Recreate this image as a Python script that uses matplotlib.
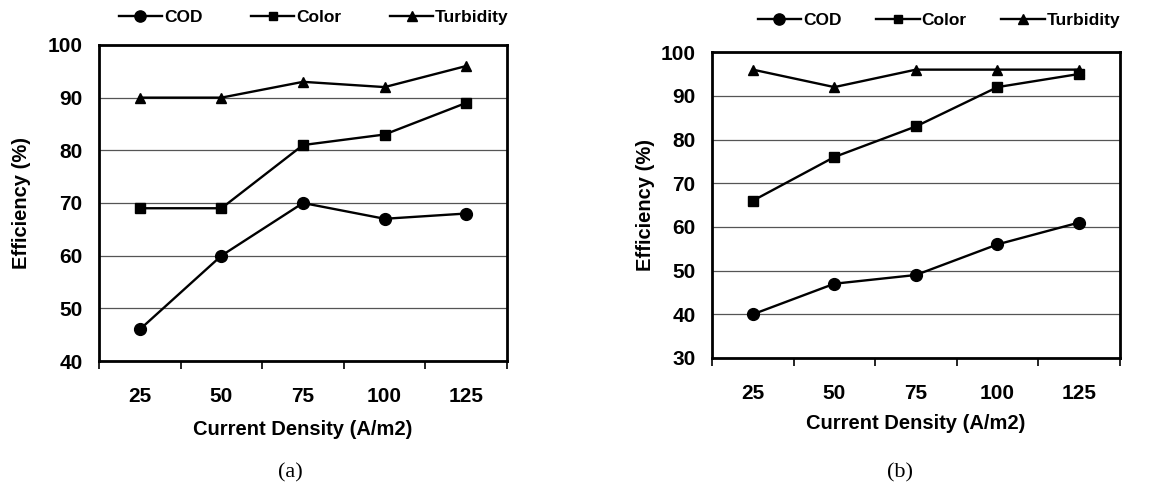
import matplotlib.pyplot as plt
import numpy as np

# current density categories (A/m2)
densities = ['25', '50', '75', '100', '125']

# panel (a)
cod_a = [46, 60, 70, 67, 68]
color_a = [69, 69, 81, 83, 89]
turb_a = [90, 90, 93, 92, 96]

# panel (b)
cod_b = [40, 47, 49, 56, 61]
color_b = [66, 76, 83, 92, 95]
turb_b = [96, 92, 96, 96, 96]

plt.rcParams['font.family'] = ['Liberation Sans', 'DejaVu Sans']
plt.rcParams['font.weight'] = 'bold'

fig = plt.figure(figsize=(11.75, 4.87), dpi=100)


def draw_panel(rect, cod, color, turb, ylim, ylabel_pad, xtick_pad, xlab_pad,
               tag, tag_x, leg_x, leg_y, colspace):
    ax = fig.add_axes(rect)
    x = np.arange(len(densities))
    l1, = ax.plot(x, cod, '-o', color='black', lw=1.7, ms=8.5)
    l2, = ax.plot(x, color, '-s', color='black', lw=1.7, ms=6.8)
    l3, = ax.plot(x, turb, '-^', color='black', lw=1.7, ms=7.5)

    ax.set_xlim(-0.5, len(densities) - 0.5)
    ax.set_ylim(*ylim)
    ax.set_yticks(np.arange(ylim[0], ylim[1] + 1, 10))
    ax.yaxis.grid(True, color='#555555', lw=0.9)
    ax.set_axisbelow(True)

    ax.set_xticks(x)
    ax.set_xticklabels(densities)
    ax.set_xticks(np.arange(-0.5, len(densities)), minor=True)
    ax.tick_params(axis='x', which='major', length=0, pad=xtick_pad, labelsize=15)
    ax.tick_params(axis='x', which='minor', length=6, width=1.2, direction='out')
    ax.tick_params(axis='y', length=0, pad=12, labelsize=15)
    for s in ax.spines.values():
        s.set_linewidth(2)

    ax.set_xlabel('Current Density (A/m2)', fontsize=14.5, fontweight='bold', labelpad=xlab_pad)
    ax.set_ylabel('Efficiency (%)', fontsize=14.5, fontweight='bold', labelpad=ylabel_pad)

    fig.legend([l1, l2, l3], ['COD', 'Color', 'Turbidity'], loc='center',
               bbox_to_anchor=(leg_x, leg_y), ncol=3, frameon=False,
               fontsize=12.5, handlelength=2.5, columnspacing=colspace, handletextpad=0.1,
               markerscale=0.95)
    fig.text(tag_x, 0.03, tag, fontsize=16, family='Liberation Serif',
             fontweight='normal', ha='center', va='center')
    return ax


draw_panel([0.0843, 0.2587, 0.3472, 0.649], cod_a, color_a, turb_a, (40, 100),
           12, 19, 10, '(a)', 0.247, 0.267, 0.965, 2.8)
draw_panel([0.606, 0.2649, 0.347, 0.628], cod_b, color_b, turb_b, (30, 100),
           4, 19, 8, '(b)', 0.766, 0.799, 0.958, 2.0)

fig.savefig('out.png', dpi=100)
